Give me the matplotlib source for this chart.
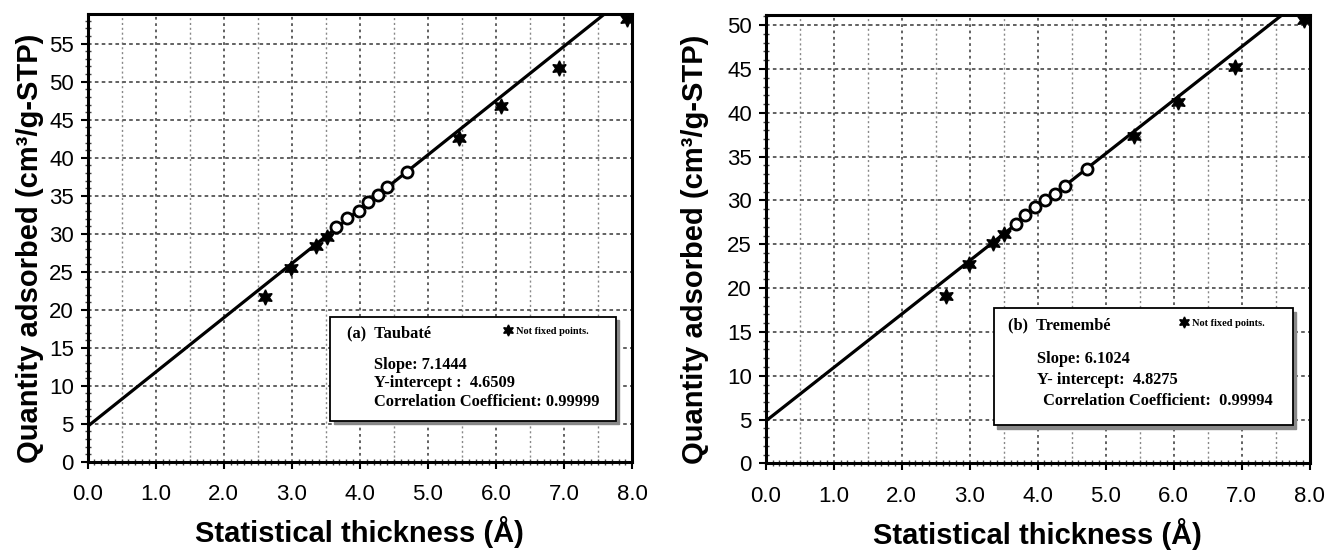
import matplotlib
matplotlib.use("Agg")
import matplotlib.pyplot as plt
import numpy as np
from matplotlib.lines import Line2D
from matplotlib.patches import Rectangle
import matplotlib.transforms as mtransforms
from matplotlib.ticker import MultipleLocator, FormatStrFormatter

# ---------------- data ----------------
# (a) Taubaté
a_star_x = [2.61, 2.99, 3.35, 3.51, 5.45, 6.07, 6.92, 7.93]
a_star_y = [21.7, 25.5, 28.4, 29.6, 42.6, 46.8, 51.8, 58.3]
a_circ_x = [3.65, 3.81, 3.98, 4.12, 4.26, 4.40, 4.69]
a_circ_y = [30.9, 32.1, 33.0, 34.2, 35.1, 36.1, 38.1]
a_slope, a_icpt = 7.1444, 4.6509
a_ymax = 58.9
a_yticks = list(range(0, 60, 5))

# (b) Tremembé
b_star_x = [2.65, 2.99, 3.34, 3.51, 5.41, 6.06, 6.90, 7.91]
b_star_y = [19.1, 22.7, 25.1, 26.2, 37.3, 41.2, 45.2, 50.6]
b_circ_x = [3.68, 3.82, 3.96, 4.11, 4.26, 4.40, 4.72]
b_circ_y = [27.3, 28.3, 29.2, 30.0, 30.7, 31.6, 33.6]
b_slope, b_icpt = 6.1024, 4.8275
b_ymax = 51.15
b_yticks = list(range(0, 55, 5))

xticks = [0, 1, 2, 3, 4, 5, 6, 7, 8]

a_texts = ["(a)  Taubaté", "Slope: 7.1444", "Y-intercept :  4.6509",
           "Correlation Coefficient: 0.99999"]
b_texts = ["(b)  Tremembé", "Slope: 6.1024", "Y- intercept:  4.8275",
           " Correlation Coefficient:  0.99994"]

plt.rcParams['font.family'] = ['Liberation Sans', 'DejaVu Sans']

fig = plt.figure(figsize=(13.28, 5.51), dpi=100)
ax1 = fig.add_axes([0.066, 0.162, 0.410, 0.8125])
ax2 = fig.add_axes([0.5766, 0.159, 0.4096, 0.8136])

star_marker = (6, 1, 0)

def draw_panel(ax, sx, sy, cx, cy, slope, icpt, ymax, yticks, texts, box,
               tpos, ylab_xy):
    ax.set_xlim(0, 8)
    ax.set_ylim(0, ymax)
    ax.set_xticks(xticks)
    ax.xaxis.set_major_formatter(FormatStrFormatter('%.1f'))
    ax.xaxis.set_minor_locator(MultipleLocator(0.1))
    ax.set_yticks(yticks)
    ax.yaxis.set_minor_locator(MultipleLocator(1))
    # grid lines
    for gx in np.arange(0.5, 8.0, 0.5):
        major = abs(gx - round(gx)) < 1e-6
        ax.axvline(gx, color='#555555' if major else '#888888',
                   lw=1.3 if major else 1.0, ls=(0, (1.5, 2.0)), zorder=1)
    for gy in yticks[1:]:
        ax.axhline(gy, color='#555555', lw=1.3, ls=(0, (2.0, 1.8)), zorder=1)
    # fitted line
    xl = np.array([0.0, 8.0])
    ax.plot(xl, slope * xl + icpt, color='black', lw=2.3, zorder=3,
            solid_capstyle='butt')
    ax.plot(sx, sy, ls='none', marker=star_marker, ms=11, color='black',
            mec='black', zorder=4)
    ax.plot(cx, cy, ls='none', marker='o', ms=8, mfc='white', mec='black',
            mew=2.0, zorder=4)
    for s in ax.spines.values():
        s.set_linewidth(2.2)
    ax.tick_params(axis='both', which='major', direction='out', length=5,
                   width=1.5, labelsize=16)
    ax.tick_params(axis='x', which='major', pad=11)
    ax.tick_params(axis='y', which='major', pad=5)
    ax.tick_params(axis='both', which='minor', direction='inout', length=4,
                   width=1.0, color='#444444')
    ax.set_xlabel('Statistical thickness (Å)', fontsize=21, fontweight='bold')
    ax.set_ylabel('Quantity adsorbed (cm³/g-STP)', fontsize=21,
                  fontweight='bold')
    ax.xaxis.set_label_coords(0.5, -0.122)
    ax.yaxis.set_label_coords(*ylab_xy)
    # info box with shadow
    x0, y0, x1, y1 = box
    shadow_tr = mtransforms.offset_copy(ax.transAxes, fig=fig, x=2.5, y=-2.5,
                                        units='points')
    ax.add_patch(Rectangle((x0, y0), x1 - x0, y1 - y0, transform=shadow_tr,
                           facecolor='#888888', edgecolor='#888888', lw=1.0,
                           zorder=5))
    ax.add_patch(Rectangle((x0, y0), x1 - x0, y1 - y0, transform=ax.transAxes,
                           facecolor='white', edgecolor='black', lw=1.3,
                           zorder=6))
    fam = ['Liberation Serif', 'DejaVu Serif']
    for (tx, ty), t in zip(tpos[:4], texts):
        ax.text(tx, ty, t, transform=ax.transAxes, fontsize=11.8,
                fontweight='bold', family=fam, va='center', ha='left',
                zorder=7)
    mx, my = tpos[4]
    leg = ax.legend(handles=[Line2D([], [], ls='none', marker=star_marker,
                                    ms=8, color='black')],
                    labels=['Not fixed points.'], loc='center left',
                    bbox_to_anchor=(mx, my), frameon=False,
                    prop={'family': fam, 'weight': 'bold', 'size': 7.5},
                    handlelength=0.8, handletextpad=0.3, borderpad=0,
                    borderaxespad=0)
    leg.set_zorder(8)

draw_panel(ax1, a_star_x, a_star_y, a_circ_x, a_circ_y, a_slope, a_icpt,
           a_ymax, a_yticks, a_texts,
           (0.446, 0.092, 0.970, 0.324),
           [(0.476, 0.2875), (0.526, 0.216), (0.526, 0.176), (0.526, 0.1335),
            (0.765, 0.292)],
           (-0.080, 0.477))
draw_panel(ax2, b_star_x, b_star_y, b_circ_x, b_circ_y, b_slope, b_icpt,
           b_ymax, b_yticks, b_texts,
           (0.419, 0.0855, 0.969, 0.3457),
           [(0.445, 0.3085), (0.4996, 0.2327), (0.4996, 0.1858),
            (0.503, 0.139), (0.762, 0.313)],
           (-0.105, 0.478))

fig.savefig('out.png', dpi=100)
